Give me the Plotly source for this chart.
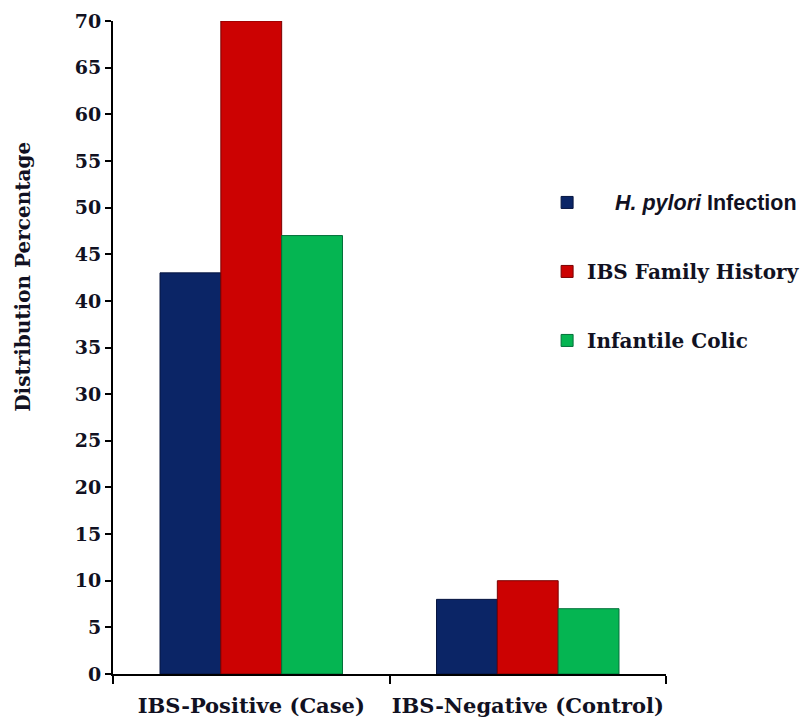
import plotly.graph_objects as go

categories = ["IBS-Positive (Case)", "IBS-Negative (Control)"]
series_names = [
    "&nbsp;&nbsp;&nbsp;&nbsp;<span style='font-family:Liberation Sans;font-size:21.5px'><i>H. pylori</i> Infection</span>",
    "IBS Family History",
    "Infantile Colic",
]
hpylori = [43, 8]
family_history = [70, 10]
infantile_colic = [47, 7]
y_title = "Distribution Percentage"
colors = ["#0B2566", "#CC0202", "#05B552"]
edge_colors = ["#061540", "#7A0000", "#03703A"]

fig = go.Figure()
for i, (name, vals) in enumerate(zip(series_names, [hpylori, family_history, infantile_colic])):
    fig.add_trace(go.Bar(
        x=categories, y=vals, name=f"<b>{name}</b>",
        marker=dict(color=colors[i], line=dict(color=edge_colors[i], width=1)),
        legendgroup=f"g{i}",
    ))

serif = "DejaVu Serif"
txt = "#111122"
fig.update_layout(
    width=809, height=721,
    paper_bgcolor="white", plot_bgcolor="white",
    margin=dict(l=105, r=141, t=13, b=55),
    barmode="group", bargap=0.34, bargroupgap=0,
    font=dict(family=serif, size=18, color=txt),
    showlegend=True,
    legend=dict(
        x=0.785, xanchor="left", y=0.752, yanchor="top",
        bgcolor="rgba(0,0,0,0)",
        font=dict(family=serif, size=20, color=txt),
        tracegroupgap=40, itemwidth=30,
    ),
    xaxis=dict(
        automargin=False, tickangle=0,
        showline=True, linecolor="black", linewidth=2,
        ticks="outside", ticklen=8, tickwidth=2, tickcolor="black",
        tickson="boundaries", ticklabelstandoff=12,
        tickfont=dict(family=serif, size=21, color=txt),
        tickprefix="<b>", ticksuffix="</b>",
        showgrid=False,
    ),
    yaxis=dict(
        automargin=False,
        range=[0, 70], dtick=5,
        showline=True, linecolor="black", linewidth=2,
        ticks="outside", ticklen=6, tickwidth=2, tickcolor="black",
        tickfont=dict(family=serif, size=19, color=txt),
        tickprefix="<b>", ticksuffix="</b>",
        showgrid=False, zeroline=False,
    ),
    annotations=[dict(
        text=f"<b>{y_title}</b>", textangle=-90,
        xref="paper", yref="paper", x=-0.162, y=0.609,
        xanchor="center", yanchor="middle", showarrow=False,
        font=dict(family=serif, size=20, color=txt),
    )],
)

fig.write_html("out.html")
